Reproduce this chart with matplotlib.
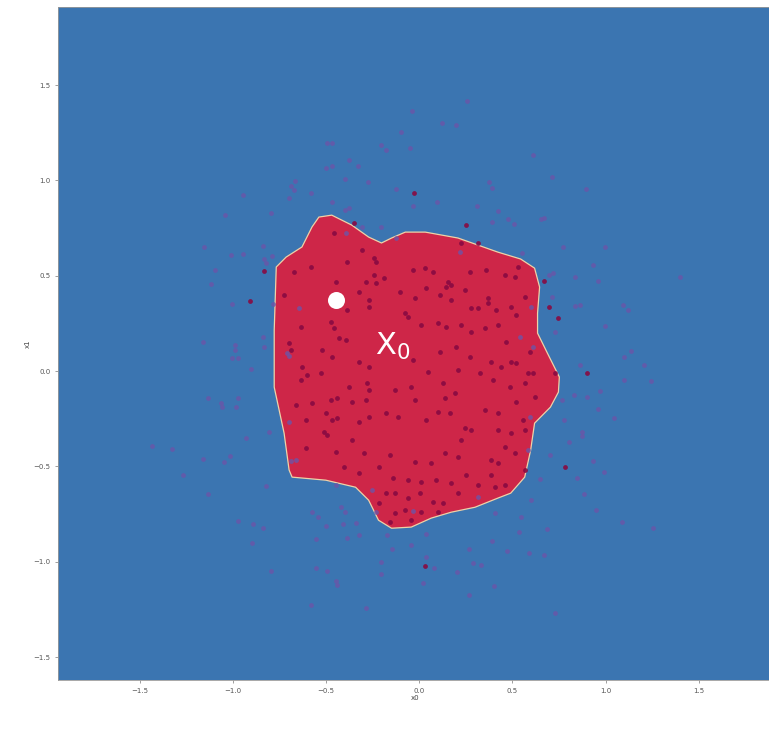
import numpy as np
import matplotlib
matplotlib.use("Agg")
import matplotlib.pyplot as plt
from matplotlib.patches import Polygon

BLUE_BG = "#3b75b1"
RED_REG = "#ce2648"
EDGE = "#eed2a8"
C_A = "#880a42"
C_B = "#6b55a8"

# decision boundary of the red region (x0, x1)
bx = [-0.539, -0.470, -0.363, -0.272, -0.203, -0.149, -0.075, 0.032, 0.208, 0.422,
      0.544, 0.619, 0.646, 0.635, 0.635, 0.688, 0.752, 0.747, 0.704, 0.619,
      0.598, 0.566, 0.491, 0.422, 0.299, 0.171, 0.064, -0.043, -0.149, -0.219,
      -0.272, -0.342, -0.502, -0.683, -0.699, -0.726, -0.779, -0.779, -0.768, -0.715,
      -0.630, -0.576]
by = [0.808, 0.818, 0.766, 0.703, 0.672, 0.698, 0.729, 0.729, 0.698, 0.624,
      0.588, 0.540, 0.441, 0.304, 0.199, 0.094, -0.031, -0.110, -0.189, -0.273,
      -0.414, -0.556, -0.640, -0.666, -0.714, -0.740, -0.771, -0.818, -0.824, -0.782,
      -0.677, -0.609, -0.572, -0.556, -0.519, -0.325, -0.084, 0.215, 0.546, 0.598,
      0.651, 0.756]

# class 0 samples (outer ring)
b_x = [-0.944, -1.041, -0.795, -0.699, -0.688, -0.667, -0.672, -0.582, -0.502, -0.496,
       -1.158, -1.009, -0.944, -0.838, -0.790, -0.832, -0.822, -1.099, -1.121, -1.003,
       -0.784, -0.838, -1.163, -0.987, -0.832, -0.992, -1.003, -0.976, -0.902, -1.137,
       -1.067, -1.062, -0.971, -0.982, -0.806, -0.928, -1.435, -1.329, -1.163, -1.014,
       -1.051, -1.270, -1.137, -0.822, -0.971, -0.891, -0.838, -0.896, -0.795, -0.576,
       -0.544, -0.502, -0.555, -0.555, -0.496, -0.582,
       0.256, -0.037, 0.123, 0.197, -0.096, -0.208, -0.181, -0.048, 0.608, -0.470,
       -0.379, -0.331, -0.470, -0.400, -0.277, -0.123, 0.374, 0.390, -0.032, 0.096,
       0.309, 0.422, 0.475, 0.507, 0.390, -0.470, -0.400, -0.379, -0.309, -0.203,
       0.550,
       0.710, 0.896, 0.656, 0.667, 0.774, 0.998, 0.934, 0.838, 0.960, 1.398,
       0.699, 0.720, 0.715, 0.838, 0.864, 1.094, 1.121, 0.731, 0.998, 0.864,
       1.099, 1.137, 1.206, 1.243, 1.099, 0.971, 0.832, 0.902, 0.768, 0.960,
       1.046, 0.779, 0.875, 0.875, 0.806, 0.704, 0.934, 0.848, 0.993, 0.886,
       0.950, 1.089, 1.254, 0.688, 0.646, 0.667, 0.731,
       -0.448, -0.422, -0.400, -0.411, -0.342, -0.390, -0.326, -0.176, -0.144, -0.043,
       0.037, 0.037, 0.080, -0.203, -0.208, -0.448, -0.443, 0.021, 0.203, 0.288,
       0.331, 0.267, 0.390, 0.470, 0.400, 0.267, -0.288, 0.406, 0.534, 0.587,
       0.544, 0.598,
       -0.395, -0.123, 0.219, -0.646, -0.710, 0.598, 0.539, 0.608, -0.662, -0.256,
       0.315, 0.592, 0.582, -0.699, -0.699, -0.688, -0.235, -0.032]
b_y = [0.923, 0.819, 0.829, 0.908, 0.971, 0.997, 0.950, 0.934, 1.065, 1.196,
       0.651, 0.609, 0.614, 0.656, 0.603, 0.588, 0.567, 0.530, 0.456, 0.352,
       0.352, 0.178, 0.152, 0.136, 0.126, 0.110, 0.068, 0.068, 0.010, -0.142,
       -0.168, -0.189, -0.142, -0.189, -0.320, -0.352, -0.394, -0.409, -0.462, -0.446,
       -0.477, -0.546, -0.645, -0.603, -0.787, -0.803, -0.824, -0.902, -1.049, -0.740,
       -0.766, -0.813, -0.881, -1.034, -1.049, -1.228,
       1.417, 1.364, 1.301, 1.291, 1.254, 1.186, 1.160, 1.170, 1.133, 1.196,
       1.107, 1.076, 1.076, 1.007, 0.992, 0.955, 0.992, 0.960, 0.866, 0.887,
       0.866, 0.840, 0.798, 0.771, 0.782, 0.887, 0.845, 0.855, 0.756, 0.756,
       0.619,
       1.018, 0.955, 0.798, 0.803, 0.651, 0.651, 0.556, 0.493, 0.472, 0.493,
       0.504, 0.514, 0.388, 0.341, 0.346, 0.346, 0.320, 0.205, 0.236, 0.031,
       0.073, 0.105, 0.031, -0.052, -0.047, -0.105, -0.126, -0.136, -0.152, -0.199,
       -0.247, -0.257, -0.320, -0.341, -0.373, -0.441, -0.472, -0.561, -0.530, -0.645,
       -0.729, -0.792, -0.824, -0.829, -0.567, -0.965, -1.270,
       -0.598, -0.714, -0.740, -0.803, -0.798, -0.876, -0.861, -0.861, -0.934, -0.913,
       -0.855, -0.976, -1.034, -1.002, -1.065, -1.102, -1.123, -1.112, -1.055, -1.007,
       -1.018, -0.934, -0.892, -0.944, -1.128, -1.175, -1.244, -0.745, -0.845, -0.955,
       -0.766, -0.677,
       0.724, 0.698, 0.624, 0.331, 0.094, 0.336, 0.178, 0.126, -0.467, -0.624,
       -0.661, -0.241, -0.415, 0.079, -0.268, -0.472, -0.740, -0.735]

# class 1 samples (inner cluster)
a_x = [-0.832, -0.907, -0.352, -0.027, 0.251, 0.667, 0.694, 0.747, 0.902, 0.784, 0.032,
       -0.459, -0.309, -0.245, -0.235, -0.390, -0.582, -0.672, -0.448, -0.288, -0.245,
       -0.192, -0.235, -0.032, 0.032, 0.075, 0.155, 0.171, 0.144, 0.224, 0.272,
       0.315, 0.358, 0.459, 0.528, 0.512, -0.326, -0.272, -0.272, -0.390, -0.475,
       -0.459, -0.432, -0.635, -0.699, -0.688, -0.726, -0.101, -0.021, 0.037, 0.112,
       0.171, 0.245, 0.277, 0.315, 0.368, 0.368, 0.411, 0.491, 0.566, -0.075,
       -0.059, 0.011, 0.101, 0.144, 0.224, 0.277, 0.352, 0.422, 0.464, 0.518,
       0.491, 0.518, 0.592, 0.582, 0.608, 0.726, -0.630, -0.635, -0.603, -0.528,
       -0.523, -0.470, -0.395, -0.326, -0.272, -0.032, 0.048, 0.112, 0.197, 0.208,
       0.272, 0.326, 0.384, 0.395, 0.438, 0.486, 0.566, 0.619, -0.379, -0.283,
       -0.272, -0.128, -0.043, -0.021, 0.128, 0.139, 0.192, -0.576, -0.475, -0.443,
       -0.363, -0.662, -0.288, -0.608, -0.502, -0.470, -0.443, -0.326, -0.272, -0.181,
       -0.112, 0.037, 0.101, 0.165, 0.245, 0.277, 0.352, 0.422, 0.518, 0.555,
       0.566, 0.422, -0.512, -0.496, -0.363, -0.448, -0.608, -0.299, -0.155, -0.021,
       0.064, 0.139, 0.208, 0.224, 0.384, 0.422, 0.512, 0.566, 0.459, 0.491,
       -0.406, -0.326, -0.219, -0.139, -0.059, 0.011, 0.091, 0.171, 0.251, 0.315,
       0.384, 0.459, 0.406, -0.181, -0.128, -0.059, 0.005, 0.075, 0.128, 0.208,
       -0.075, -0.128, -0.043, 0.011, 0.101, -0.219, -0.155]
a_y = [0.525, 0.367, 0.777, 0.934, 0.766, 0.472, 0.336, 0.278, -0.010, -0.504, -1.023,
       0.724, 0.635, 0.593, 0.572, 0.572, 0.546, 0.519, 0.467, 0.467, 0.504,
       0.488, 0.462, 0.530, 0.540, 0.519, 0.467, 0.451, 0.441, 0.672, 0.519,
       0.672, 0.530, 0.504, 0.546, 0.493, 0.415, 0.373, 0.336, 0.320, 0.257,
       0.226, 0.173, 0.231, 0.147, 0.110, 0.399, 0.415, 0.383, 0.436, 0.399,
       0.373, 0.425, 0.331, 0.331, 0.383, 0.357, 0.320, 0.336, 0.388, 0.304,
       0.283, 0.241, 0.252, 0.231, 0.241, 0.205, 0.226, 0.241, 0.152, 0.294,
       0.047, 0.042, 0.100, -0.010, -0.010, -0.010, 0.021, -0.047, -0.021, -0.010,
       0.110, 0.073, 0.163, 0.047, 0.021, 0.058, -0.005, 0.100, 0.126, 0.005,
       0.073, -0.010, 0.047, -0.047, 0.021, -0.084, -0.063, -0.136, -0.084, -0.063,
       -0.100, -0.100, -0.084, -0.152, -0.063, -0.142, -0.115, -0.168, -0.152, -0.142,
       -0.163, -0.178, -0.152, -0.257, -0.220, -0.257, -0.247, -0.268, -0.241, -0.220,
       -0.241, -0.257, -0.215, -0.220, -0.299, -0.310, -0.205, -0.220, -0.163, -0.257,
       -0.310, -0.310, -0.320, -0.336, -0.362, -0.425, -0.404, -0.430, -0.441, -0.477,
       -0.483, -0.430, -0.451, -0.362, -0.467, -0.483, -0.430, -0.519, -0.399, -0.325,
       -0.504, -0.535, -0.504, -0.561, -0.572, -0.582, -0.572, -0.588, -0.546, -0.598,
       -0.546, -0.598, -0.609, -0.640, -0.640, -0.666, -0.640, -0.687, -0.693, -0.640,
       -0.729, -0.745, -0.782, -0.740, -0.740, -0.693, -0.792]

x_query = [-0.448]
y_query = [0.372]

fig = plt.figure(figsize=(7.69, 7.30), dpi=100)
ax = fig.add_axes([0.0754, 0.0685, 0.93, 0.922])
ax.set_facecolor(BLUE_BG)
ax.add_patch(Polygon(np.column_stack([bx, by]), closed=True, facecolor=RED_REG,
                     edgecolor=EDGE, linewidth=0.9, joinstyle="round", zorder=1))

ax.scatter(b_x, b_y, s=12, color=C_B, alpha=0.8, linewidths=0, zorder=2)
ax.scatter(a_x, a_y, s=12, color=C_A, alpha=0.9, linewidths=0, zorder=2)
ax.scatter(x_query, y_query, s=150, color="white", linewidths=0, zorder=3)
ax.text(-0.24, 0.085, r"$\mathregular{X_0}$", color="white", fontsize=22, zorder=4)

ax.set_xlim(-1.94, 1.90)
ax.set_ylim(-1.62, 1.91)
ax.set_xticks([-1.5, -1.0, -0.5, 0.0, 0.5, 1.0, 1.5])
ax.set_yticks([-1.5, -1.0, -0.5, 0.0, 0.5, 1.0, 1.5])
ax.tick_params(labelsize=5, labelcolor="#555555", color="#777777", length=2, width=0.5)
ax.set_xlabel("x0", fontsize=5, color="#444444", labelpad=1)
ax.set_ylabel("x1", fontsize=5, color="#444444", labelpad=2)
for s in ax.spines.values():
    s.set_color("#999999")
    s.set_linewidth(0.6)

plt.savefig("out.png", dpi=100)
